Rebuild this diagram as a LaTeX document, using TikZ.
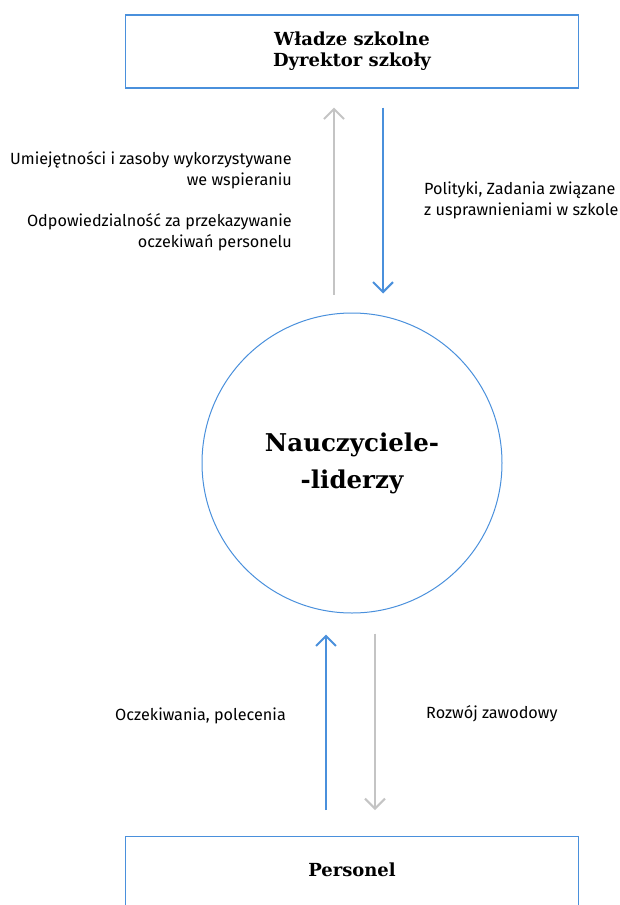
\documentclass[tikz,border=0pt]{standalone}
\usepackage{fontspec}
\setmainfont{Fira Sans}
\newfontfamily\titlefont{DejaVu Serif}
\usetikzlibrary{arrows.meta}
\definecolor{lblue}{HTML}{4A90DC}
\definecolor{lgray}{HTML}{C4C4C4}
\tikzset{
  boxnode/.style={draw=lblue, line width=1.2pt, minimum width=453pt, inner sep=0pt, font=\titlefont\bfseries\fontsize{18}{21}\selectfont, align=center},
  circnode/.style={draw=lblue, line width=1pt, circle, minimum size=300pt, inner sep=0pt, font=\titlefont\bfseries\fontsize{24.5}{37}\selectfont, align=center},
  lbl/.style={font=\fontsize{16.2}{21}\selectfont, inner sep=0pt},
  arr/.style={line width=2pt, -{Straight Barb[length=10pt,width=20pt,line width=2pt]}},
  bluearr/.style={arr, draw=lblue},
  grayarr/.style={arr, draw=lgray},
}
\begin{document}
\begin{tikzpicture}[x=1pt,y=-1pt]
\useasboundingbox (0,0) rectangle (620,905);
\node[boxnode, minimum height=73pt] (top) at (352,51.5) {Władze szkolne\\Dyrektor szkoły};
\node[circnode] (circ) at (352,463) {Nauczyciele-\\-liderzy};
\node[boxnode, anchor=north, text height=40pt, text depth=50pt] (bot) at (352,836) {Personel};

\draw[grayarr, shorten <=18pt, shorten >=19pt] ([xshift=-18pt]circ.north) -- ([xshift=-18pt]top.south);
\draw[bluearr, shorten <=19pt, shorten >=19pt] ([xshift=31pt]top.south) -- ([xshift=31pt]circ.north);
\draw[bluearr, shorten <=26pt, shorten >=21pt] ([xshift=-26pt]bot.north) -- ([xshift=-26pt]circ.south);
\draw[grayarr, shorten <=20pt, shorten >=26pt] ([xshift=23pt]circ.south) -- ([xshift=23pt]bot.north);

\node[lbl, anchor=north east, align=right] (l1) at (292,151) {Umiejętności i zasoby wykorzystywane\\we wspieraniu};
\node[lbl, anchor=north east, align=right] (l2) at (292,213) {Odpowiedzialność za przekazywanie\\oczekiwań personelu};
\node[lbl, anchor=north west, align=left] (r1) at (424,182) {Polityki, Zadania związane\\z usprawnieniami w szkole};
\node[lbl, anchor=east] (l3) at (286,716) {Oczekiwania, polecenia};
\node[lbl, anchor=west] (r2) at (426,714) {Rozwój zawodowy};
\end{tikzpicture}
\end{document}
